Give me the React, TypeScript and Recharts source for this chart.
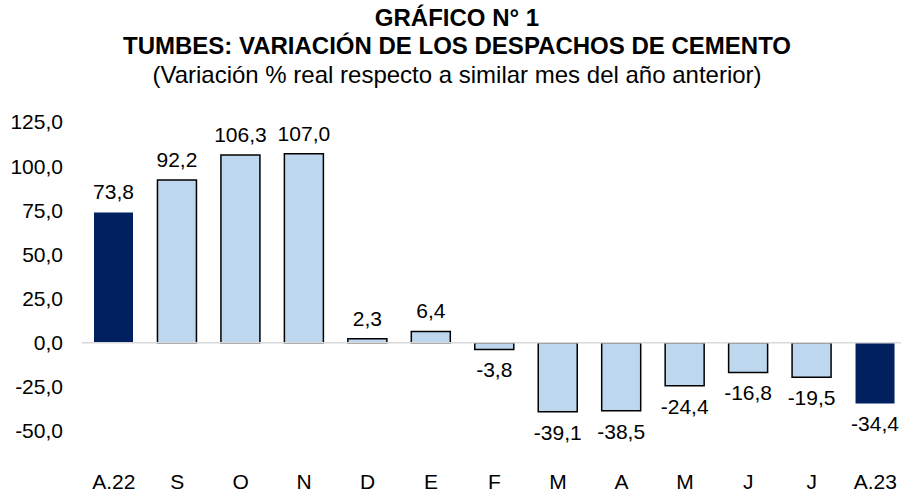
import React from 'react';
import { BarChart, Bar, XAxis, YAxis, Cell, LabelList, ReferenceLine } from 'recharts';

// Tumbes: variación % de despachos de cemento
const months = ['A.22', 'S', 'O', 'N', 'D', 'E', 'F', 'M', 'A', 'M', 'J', 'J', 'A.23'];
const variation = [73.8, 92.2, 106.3, 107.0, 2.3, 6.4, -3.8, -39.1, -38.5, -24.4, -16.8, -19.5, -34.4];
const yTicks = [-50, -25, 0, 25, 50, 75, 100, 125];

const data = months.map((m, i) => ({ key: `${m}-${i}`, name: m, value: variation[i] }));

const FONT = '"Liberation Sans", Arial, sans-serif';
const fmt = (v: number) => v.toFixed(1).replace('.', ',');

const ValueLabel = (props: any) => {
  const { x, y, width, height, value } = props;
  const top = Math.min(y, y + height);
  const bottom = Math.max(y, y + height);
  const ty = value >= 0 ? top - 13 : bottom + 28;
  return (
    <text x={x + width / 2} y={ty} textAnchor="middle" fontSize={21} fontFamily={FONT} fill="#000">
      {fmt(value)}
    </text>
  );
};

const titleStyle: React.CSSProperties = {
  position: 'absolute',
  left: 0,
  width: 914,
  textAlign: 'center',
  fontFamily: FONT,
  fontSize: 24,
  color: '#000',
  whiteSpace: 'nowrap',
  lineHeight: '20px',
};

export default function App() {
  return (
    <div style={{ position: 'absolute', left: 0, top: 0, width: 901, height: 492, overflow: 'hidden', background: '#fff' }}>
      <div style={{ ...titleStyle, top: 8, fontWeight: 'bold' }}>GRÁFICO N° 1</div>
      <div style={{ ...titleStyle, top: 36, fontWeight: 'bold' }}>TUMBES: VARIACIÓN DE LOS DESPACHOS DE CEMENTO</div>
      <div style={{ ...titleStyle, top: 65 }}>(Variación % real respecto a similar mes del año anterior)</div>
      <BarChart
        width={907}
        height={492}
        data={data}
        margin={{ top: 122, right: 0, bottom: 0, left: 0 }}
      >
        <XAxis
          dataKey="key"
          tickFormatter={(k: string) => k.split('-')[0]}
          axisLine={false}
          tickLine={false}
          tickSize={0}
          tickMargin={43}
          height={61}
          interval={0}
          tick={{ fontSize: 21, fontFamily: FONT, fill: '#000' }}
        />
        <YAxis
          domain={[-50, 125]}
          ticks={yTicks}
          tickFormatter={fmt}
          axisLine={false}
          tickLine={false}
          tickSize={0}
          tickMargin={19}
          width={82}
          interval={0}
          tick={{ fontSize: 21, fontFamily: FONT, fill: '#000' }}
        />
        <ReferenceLine y={0} stroke="#d9d9d9" strokeWidth={1.5} />
        <Bar dataKey="value" barSize={39} isAnimationActive={false}>
          {data.map((d, i) => {
            const edge = i === 0 || i === data.length - 1;
            return (
              <Cell
                key={d.key}
                fill={edge ? '#002060' : '#bdd7ee'}
                stroke={edge ? '#002060' : '#000'}
                strokeWidth={edge ? 0 : 1.5}
              />
            );
          })}
          <LabelList dataKey="value" content={ValueLabel} />
        </Bar>
      </BarChart>
    </div>
  );
}
